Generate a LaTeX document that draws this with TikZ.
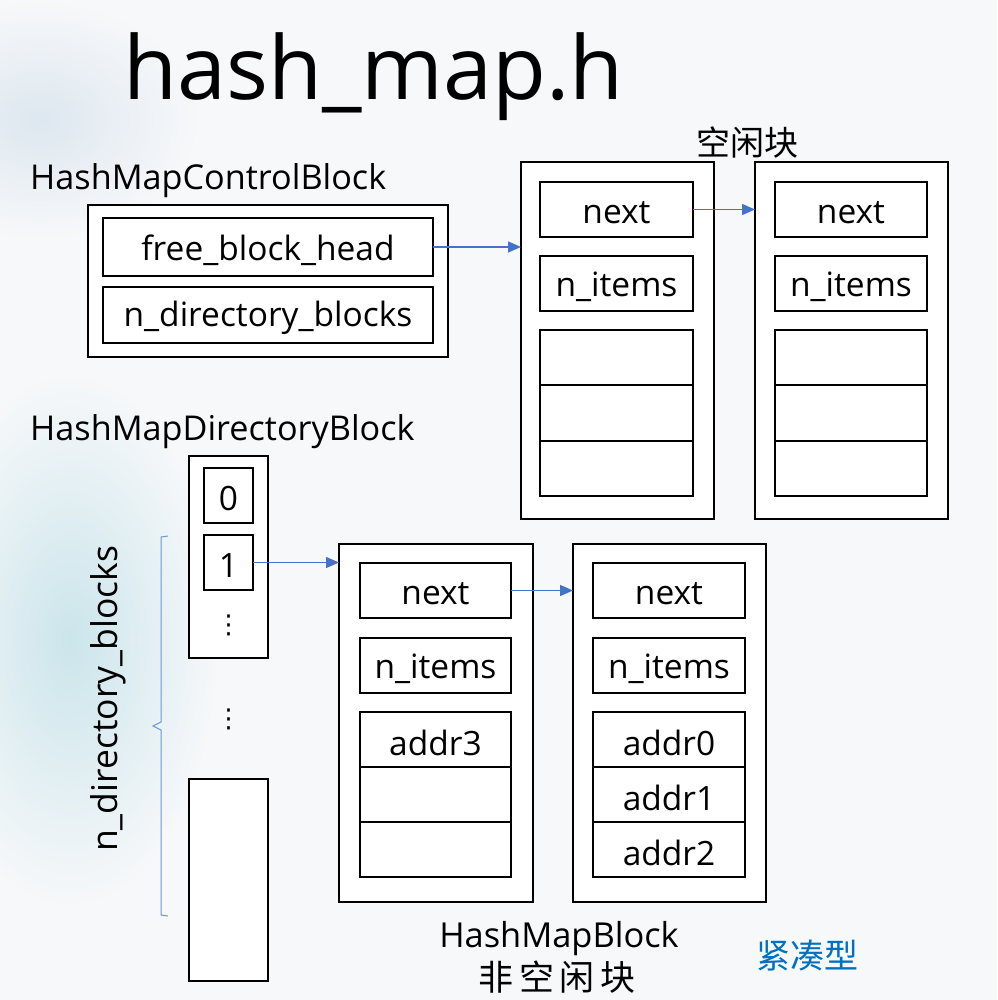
\documentclass[tikz,border=0pt]{standalone}
\usepackage{fontspec}
\setmainfont{Open Sans}
\newfontfamily\cjk{Noto Sans CJK SC}
\newfontfamily\dejavu{DejaVu Sans}
\usetikzlibrary{arrows.meta}
\definecolor{bg}{HTML}{F7F8FA}
\definecolor{wash}{HTML}{CBE5EB}
\definecolor{wash2}{HTML}{DDE7EF}
\definecolor{arrowblue}{HTML}{4472C4}
\definecolor{bracecol}{HTML}{6F95D6}
\definecolor{textblue}{HTML}{0070C0}
\newcommand{\celltxt}[1]{\raisebox{-3pt}[\height][\depth]{#1}}
\begin{document}
\begin{tikzpicture}[x=1pt,y=-1pt,
  box/.style={draw=black, line width=2.6pt, fill=white, inner sep=0pt, outer sep=0pt},
  cell/.style={box, font=\fontsize{33.5}{36}\selectfont},
  lbl/.style={font=\fontsize{34.2}{40}\selectfont, inner sep=0pt, anchor=base west},
  cjklbl/.style={font=\cjk\fontsize{34}{36}\selectfont, inner sep=0pt},
  ptr/.style={arrowblue, line width=1.3pt, -{Triangle[length=13pt,width=11pt]}},
  dotsn/.style={font=\dejavu\fontsize{26}{30}\selectfont, inner sep=0pt}
]
\useasboundingbox (0,0) rectangle (997,1000);
% background
\fill[bg] (0,0) rectangle (997,1000);
\shade[inner color=wash, outer color=bg] (70,640) ellipse [x radius=150, y radius=270];
\shade[inner color=wash2, outer color=bg] (40,120) ellipse [x radius=160, y radius=120];

% title
\node[font=\fontsize{88}{100}\selectfont, inner sep=0pt, anchor=base west] (title) at (123,100) {hash\_map.h};

% control block
\node[lbl] (cblabel) at (30,190) {HashMapControlBlock};
\node[box, minimum width=360, minimum height=152] (cb) at (268,281) {};
\node[cell, minimum width=330, minimum height=58] (fbh) at (268,247) {\celltxt{free\_block\_head}};
\node[cell, minimum width=330, minimum height=56] (ndb) at (268,315) {\celltxt{n\_directory\_blocks}};

% free blocks
\node[cjklbl] (freelbl) at (747,143) {空闲块};
\node[box, minimum width=193, minimum height=357] (f1) at (617.5,340.5) {};
\node[cell, minimum width=153, minimum height=55] (f1next) at (616.5,209.5) {\celltxt{next}};
\node[cell, minimum width=153, minimum height=55] (f1n) at (616.5,283.5) {\celltxt{n\_items}};
\node[cell, minimum width=153, minimum height=55] (f1a) at (616.5,357.5) {};
\node[cell, minimum width=153, minimum height=56] (f1b) at (616.5,413) {};
\node[cell, minimum width=153, minimum height=55] (f1c) at (616.5,468.5) {};

\node[box, minimum width=193, minimum height=357] (f2) at (851.5,340.5) {};
\node[cell, minimum width=152, minimum height=55] (f2next) at (851,209.5) {\celltxt{next}};
\node[cell, minimum width=152, minimum height=55] (f2n) at (851,283.5) {\celltxt{n\_items}};
\node[cell, minimum width=152, minimum height=55] (f2a) at (851,357.5) {};
\node[cell, minimum width=152, minimum height=56] (f2b) at (851,413) {};
\node[cell, minimum width=152, minimum height=55] (f2c) at (851,468.5) {};

% directory
\node[lbl] (dirlabel) at (30,440) {HashMapDirectoryBlock};
\node[box, minimum width=79, minimum height=202] (dir) at (228.5,557) {};
\node[cell, minimum width=49, minimum height=55] (d0) at (228.5,495.5) {\celltxt{0}};
\node[cell, minimum width=49, minimum height=55] (d1) at (228.5,562.5) {\celltxt{1}};
\node[dotsn] (ddots) at (228.5,625) {⋮};
\node[dotsn] (mdots) at (228.5,719) {⋮};
\node[box, minimum width=79, minimum height=202] (dlast) at (228.5,880) {};

% brace and rotated label
\draw[bracecol, line width=1pt] (168,536) -- (161,537) -- (161,722) -- (153,726) -- (161,730) -- (161,915) -- (168,916);
\node[rotate=90, font=\fontsize{35.5}{40}\selectfont, inner sep=0pt] (ndlabel) at (108,699) {n\_directory\_blocks};

% hash map blocks
\node[box, minimum width=194, minimum height=358] (b3) at (436,723) {};
\node[cell, minimum width=151, minimum height=55] (b3next) at (435.5,590.5) {\celltxt{next}};
\node[cell, minimum width=151, minimum height=55] (b3n) at (435.5,665.5) {\celltxt{n\_items}};
\node[cell, minimum width=151, minimum height=55] (b3a) at (435.5,739.5) {\celltxt{addr3}};
\node[cell, minimum width=151, minimum height=55] (b3b) at (435.5,794.5) {};
\node[cell, minimum width=151, minimum height=55] (b3c) at (435.5,849.5) {};

\node[box, minimum width=193, minimum height=358] (b4) at (669.5,723) {};
\node[cell, minimum width=152, minimum height=55] (b4next) at (669,590.5) {\celltxt{next}};
\node[cell, minimum width=152, minimum height=55] (b4n) at (669,665.5) {\celltxt{n\_items}};
\node[cell, minimum width=152, minimum height=55] (b4a) at (669,739.5) {\celltxt{addr0}};
\node[cell, minimum width=152, minimum height=55] (b4b) at (669,794.5) {\celltxt{addr1}};
\node[cell, minimum width=152, minimum height=55] (b4c) at (669,849.5) {\celltxt{addr2}};

\node[font=\fontsize{34.4}{40}\selectfont, inner sep=0pt, anchor=base] (hmblabel) at (559,947) {HashMapBlock};
\node[cjklbl, font=\cjk\fontsize{35}{36}\selectfont] (nonfree) at (557,977) {非\,空\,闲\,块};
\node[cjklbl, text=textblue] (compact) at (807,955) {紧凑型};

% pointers
\draw[ptr] (fbh.east) -- (fbh.east -| f1.west);
\draw[ptr] (f1next.east) -- (f1next.east -| f2.west);
\draw[ptr] (d1.east) -- (d1.east -| b3.west);
\draw[ptr] (b3next.east) -- (b3next.east -| b4.west);
\end{tikzpicture}
\end{document}
